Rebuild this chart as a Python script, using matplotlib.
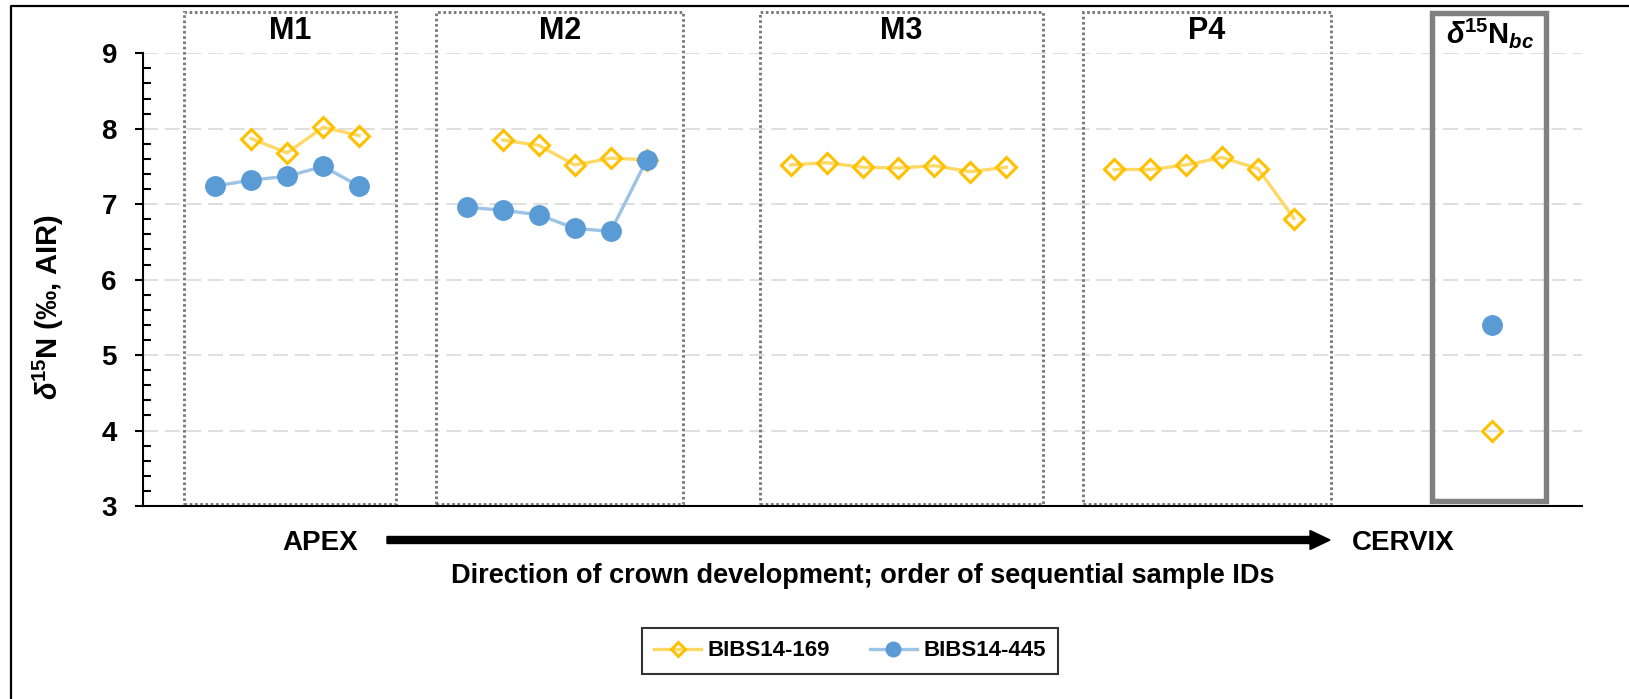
import numpy as np
import matplotlib
matplotlib.use("Agg")
import matplotlib.pyplot as plt
from matplotlib.patches import Rectangle, FancyArrow
from matplotlib.lines import Line2D
from matplotlib.ticker import MultipleLocator

plt.rcParams['font.family'] = ['Liberation Sans', 'DejaVu Sans']
plt.rcParams['mathtext.fontset'] = 'custom'
plt.rcParams['mathtext.rm'] = 'Liberation Sans'
plt.rcParams['mathtext.it'] = 'Liberation Sans:italic'
plt.rcParams['mathtext.bf'] = 'Liberation Sans:bold'
plt.rcParams['mathtext.bfit'] = 'Liberation Sans:italic:bold'

# sample order positions along crown development
m1_pos = [2, 3, 4, 5, 6]
m2_pos = [9, 10, 11, 12, 13, 14]
m3_pos = [18, 19, 20, 21, 22, 23, 24]
p4_pos = [27, 28, 29, 30, 31, 32]
bc_pos = [37.5]

# BIBS14-169
m1_169 = [np.nan, 7.87, 7.68, 8.02, 7.91]
m2_169 = [np.nan, 7.85, 7.78, 7.52, 7.61, 7.59]
m3_169 = [7.52, 7.55, 7.49, 7.48, 7.51, 7.43, 7.49]
p4_169 = [7.46, 7.46, 7.52, 7.62, 7.47, 6.81]
bc_169 = [4.00]

# BIBS14-445
m1_445 = [7.24, 7.32, 7.37, 7.50, 7.24]
m2_445 = [6.96, 6.92, 6.86, 6.68, 6.64, 7.59]
bc_445 = [5.40]

teeth = ['M1', 'M2', 'M3', 'P4']
tooth_pos = [m1_pos, m2_pos, m3_pos, p4_pos]

YEL = '#FFC000'
YEL_LINE = '#FFD966'
BLUE = '#5B9BD5'
BLUE_LINE = '#9DC3E6'

W, H = 1629, 699
fig = plt.figure(figsize=(W / 100, H / 100), dpi=100)
ax = fig.add_axes([143.3 / W, 1 - 506 / H, (1581.7 - 143.3) / W, (506 - 53.3) / H])

ax.set_xlim(0, 40)
ax.set_ylim(3, 9)

# dashed grid
for y in range(4, 10):
    ax.axhline(y, color='#D9D9D9', lw=1.2, ls=(0, (9, 4)), zorder=0)

# tooth boxes
for name, pos in zip(teeth, tooth_pos):
    x0, x1 = pos[0] - 0.86, pos[-1] + 1.02
    ax.add_patch(Rectangle((x0, 3.03), x1 - x0, 9.55 - 3.03, fill=False,
                           ec='#7A7A7A', lw=2.1, ls=(0, (0.9, 0.9)),
                           clip_on=False, zorder=1))
    ax.text((x0 + x1) / 2, 9.29, name, ha='center', va='center',
            fontsize=22, fontweight='bold', clip_on=False)

ax.add_patch(Rectangle((35.84, 3.06), 39.0 - 35.84, 9.54 - 3.06, fill=False,
                       ec='#808080', lw=3.9, clip_on=False, zorder=1))
ax.text(37.45, 9.27, r'$\mathbfit{\delta}^{\mathbf{15}}\mathbf{N}_{\mathbfit{bc}}$',
        ha='center', va='center', fontsize=21, clip_on=False)

yk = dict(color=YEL_LINE, lw=2.4, marker='D', ms=10, mfc='none', mec=YEL, mew=2.2, zorder=3)
bk = dict(color=BLUE_LINE, lw=2.4, marker='o', ms=14, mfc=BLUE, mec=BLUE, zorder=4)

for pos, vals in [(m1_pos, m1_169), (m2_pos, m2_169), (m3_pos, m3_169), (p4_pos, p4_169), (bc_pos, bc_169)]:
    ax.plot(pos, vals, **yk)
for pos, vals in [(m1_pos, m1_445), (m2_pos, m2_445), (bc_pos, bc_445)]:
    ax.plot(pos, vals, **bk)

# axes styling
for s in ['top', 'right']:
    ax.spines[s].set_visible(False)
ax.spines['left'].set_linewidth(1.5)
ax.spines['bottom'].set_linewidth(1.5)
ax.set_xticks([])
ax.yaxis.set_major_locator(MultipleLocator(1))
ax.yaxis.set_minor_locator(MultipleLocator(0.2))
ax.tick_params(axis='y', which='major', direction='out', length=6, width=1.5, pad=13)
ax.tick_params(axis='y', which='minor', direction='in', length=6, width=1.5)
for lab in ax.get_yticklabels():
    lab.set_fontsize(20)
    lab.set_fontweight('bold')

fig.text(48 / W, 1 - 307 / H, r'$\mathbfit{\delta}^{\mathbf{15}}$N (‰, AIR)',
         rotation=90, ha='center', va='center', fontsize=21, fontweight='bold')

# direction arrow and labels
fig.add_artist(FancyArrow(3.87, (H - 540) / 100, 9.43, 0, width=0.07,
                          head_width=0.19, head_length=0.2, length_includes_head=True,
                          color='black', transform=fig.dpi_scale_trans))
fig.text(320 / W, 1 - 543 / H, 'APEX', ha='center', va='center', fontsize=20, fontweight='bold')
fig.text(1403 / W, 1 - 543 / H, 'CERVIX', ha='center', va='center', fontsize=20, fontweight='bold')
fig.text(863 / W, 1 - 576 / H, 'Direction of crown development; order of sequential sample IDs',
         ha='center', va='center', fontsize=19.5, fontweight='bold')

handles = [Line2D([], [], **yk), Line2D([], [], **bk)]
leg = fig.legend(handles, ['BIBS14-169', 'BIBS14-445'], loc='center',
                 bbox_to_anchor=(850 / W, 1 - 651 / H), ncol=2, frameon=True,
                 fancybox=False, edgecolor='black', handlelength=2.1,
                 handletextpad=0.3, columnspacing=1.8, borderpad=0.55, markerscale=0.75,
                 prop={'weight': 'bold', 'size': 16})
leg.get_frame().set_linewidth(1.5)

# outer frame
fig.add_artist(Line2D([11 / W, 11 / W, 1], [0, 1 - 6 / H, 1 - 6 / H],
                      color='black', lw=1.6, transform=fig.transFigure))

fig.savefig('out.png', dpi=100)
